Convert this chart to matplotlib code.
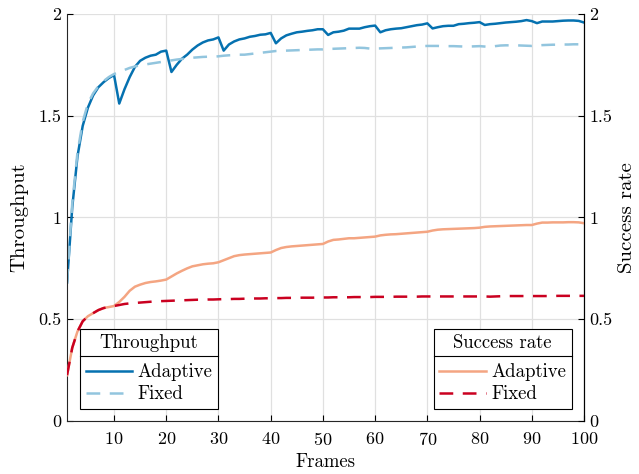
import matplotlib
matplotlib.use("Agg")
import matplotlib.pyplot as plt
from matplotlib.lines import Line2D
import numpy as np

plt.rcParams['font.family'] = 'cmr10'
plt.rcParams['mathtext.fontset'] = 'cm'
plt.rcParams['axes.formatter.use_mathtext'] = True
plt.rcParams['font.size'] = 12

frames = list(range(1, 101))

thr_adaptive = [
    0.68, 1.05, 1.30, 1.45, 1.54, 1.60, 1.64, 1.665, 1.685, 1.70,
    1.56, 1.63, 1.69, 1.74, 1.77, 1.785, 1.795, 1.80, 1.815, 1.82,
    1.715, 1.75, 1.78, 1.80, 1.825, 1.845, 1.86, 1.87, 1.875, 1.885,
    1.82, 1.85, 1.865, 1.875, 1.88, 1.888, 1.892, 1.898, 1.90, 1.907,
    1.856, 1.88, 1.895, 1.903, 1.91, 1.913, 1.917, 1.92, 1.925, 1.925,
    1.897, 1.91, 1.913, 1.918, 1.928, 1.928, 1.928, 1.935, 1.94, 1.943,
    1.91, 1.92, 1.925, 1.928, 1.93, 1.935, 1.94, 1.945, 1.948, 1.954,
    1.929, 1.935, 1.94, 1.942, 1.942, 1.95, 1.952, 1.955, 1.957, 1.96,
    1.946, 1.95, 1.952, 1.955, 1.958, 1.96, 1.962, 1.965, 1.97, 1.965,
    1.955, 1.963, 1.963, 1.963, 1.965, 1.967, 1.968, 1.968, 1.966, 1.958,
]

thr_fixed = [
    0.68, 1.07, 1.32, 1.47, 1.56, 1.61, 1.645, 1.67, 1.69, 1.705,
    1.715, 1.725, 1.735, 1.742, 1.748, 1.752, 1.756, 1.76, 1.764, 1.768,
    1.772, 1.776, 1.779, 1.782, 1.785, 1.787, 1.789, 1.79, 1.79, 1.792,
    1.795, 1.797, 1.798, 1.80, 1.80, 1.803, 1.806, 1.809, 1.812, 1.815,
    1.818, 1.819, 1.82, 1.821, 1.822, 1.823, 1.824, 1.825, 1.826, 1.826,
    1.828, 1.829, 1.83, 1.831, 1.832, 1.833, 1.834, 1.833, 1.83, 1.83,
    1.831, 1.832, 1.833, 1.834, 1.835, 1.836, 1.838, 1.84, 1.842, 1.843,
    1.843, 1.843, 1.842, 1.842, 1.842, 1.841, 1.84, 1.84, 1.841, 1.842,
    1.84, 1.838, 1.842, 1.845, 1.846, 1.846, 1.846, 1.845, 1.844, 1.843,
    1.845, 1.847, 1.848, 1.849, 1.849, 1.85, 1.85, 1.851, 1.851, 1.851,
]

sr_adaptive = [
    0.225, 0.36, 0.44, 0.49, 0.515, 0.53, 0.545, 0.555, 0.56, 0.565,
    0.585, 0.61, 0.64, 0.66, 0.67, 0.678, 0.683, 0.686, 0.69, 0.695,
    0.71, 0.725, 0.738, 0.75, 0.76, 0.765, 0.77, 0.773, 0.775, 0.78,
    0.79, 0.80, 0.81, 0.815, 0.818, 0.82, 0.822, 0.824, 0.826, 0.828,
    0.84, 0.85, 0.855, 0.858, 0.86, 0.862, 0.864, 0.866, 0.868, 0.87,
    0.882, 0.89, 0.892, 0.895, 0.898, 0.898, 0.90, 0.902, 0.904, 0.906,
    0.912, 0.915, 0.917, 0.918, 0.92, 0.922, 0.924, 0.926, 0.928, 0.93,
    0.936, 0.94, 0.942, 0.943, 0.944, 0.945, 0.946, 0.947, 0.948, 0.95,
    0.954, 0.956, 0.957, 0.958, 0.959, 0.96, 0.961, 0.962, 0.963, 0.963,
    0.97, 0.975, 0.975, 0.976, 0.976, 0.976, 0.977, 0.977, 0.976, 0.972,
]

sr_fixed = [
    0.225, 0.36, 0.44, 0.49, 0.515, 0.53, 0.545, 0.555, 0.56, 0.565,
    0.57, 0.575, 0.578, 0.58, 0.582, 0.584, 0.586, 0.588, 0.589, 0.59,
    0.591, 0.592, 0.593, 0.594, 0.595, 0.596, 0.596, 0.597, 0.597, 0.598,
    0.599, 0.599, 0.60, 0.60, 0.601, 0.601, 0.602, 0.602, 0.603, 0.603,
    0.604, 0.604, 0.605, 0.605, 0.605, 0.606, 0.606, 0.606, 0.607, 0.607,
    0.607, 0.608, 0.608, 0.608, 0.608, 0.609, 0.609, 0.609, 0.609, 0.61,
    0.61, 0.61, 0.61, 0.611, 0.611, 0.611, 0.611, 0.611, 0.612, 0.612,
    0.612, 0.612, 0.612, 0.612, 0.612, 0.612, 0.612, 0.612, 0.612, 0.612,
    0.612, 0.611, 0.612, 0.613, 0.614, 0.614, 0.614, 0.614, 0.614, 0.614,
    0.614, 0.614, 0.614, 0.614, 0.615, 0.615, 0.615, 0.615, 0.615, 0.615,
]

yticks = [0, 0.5, 1, 1.5, 2]
ytick_labels = ['0', '0.5', '1', '1.5', '2']
xticks = [10, 20, 30, 40, 50, 60, 70, 80, 90, 100]

c_blue = '#0571b0'
c_lblue = '#92c5de'
c_salmon = '#f4a582'
c_red = '#ca0020'

fig = plt.figure(figsize=(6.39, 4.74), dpi=100)
ax = fig.add_axes([0.1049, 0.1118, 0.809, 0.8587])
ax2 = ax.twinx()

dash = (0, (5.5, 3.8))
l1, = ax.plot(frames, thr_adaptive, color=c_blue, lw=1.8, label='Adaptive')
l2, = ax.plot(frames, thr_fixed, color=c_lblue, lw=1.8, ls=dash, label='Fixed')
l3, = ax2.plot(frames, sr_adaptive, color=c_salmon, lw=1.8, label='Adaptive')
l4, = ax2.plot(frames, sr_fixed, color=c_red, lw=1.8, ls=dash, label='Fixed')

for a in (ax, ax2):
    a.set_xlim(1, 100)
    a.set_ylim(0, 2)
    a.set_yticks(yticks)
    a.set_yticklabels(ytick_labels)
    a.tick_params(direction='in', length=4, width=0.8, labelsize=13)
ax.set_xticks(xticks)
ax.grid(True, color='#e0e0e0', lw=0.9)
ax.set_axisbelow(True)
ax.spines['top'].set_visible(False)
ax2.spines['top'].set_visible(False)
ax.spines['left'].set_color('#262626')
ax.spines['bottom'].set_color('#262626')
ax2.spines['left'].set_visible(False)
ax2.spines['bottom'].set_visible(False)
ax2.spines['right'].set_color('black')
ax.tick_params(axis='x', pad=7)
ax.tick_params(axis='y', pad=4)
ax2.tick_params(axis='y', pad=4)

ax.set_xlabel('Frames', fontsize=13.5, labelpad=4)
ax.set_ylabel('Throughput', fontsize=15, labelpad=7)
ax2.set_ylabel('Success rate', fontsize=15, labelpad=4)

leg_kw = dict(fancybox=False, edgecolor='black', framealpha=1, borderaxespad=0,
              handlelength=2.5, handletextpad=0.27, fontsize=13.5, title_fontsize=13.5,
              borderpad=0.3, labelspacing=0.2)
leg1 = ax2.legend([l1, l2], ['Adaptive', 'Fixed'], title='Throughput',
                  loc='lower left', bbox_to_anchor=(0.025, 0.03), **leg_kw)
ax2.add_artist(leg1)
leg2 = ax2.legend([l3, l4], ['Adaptive', 'Fixed'], title='Success rate',
                  loc='lower right', bbox_to_anchor=(0.976, 0.03), **leg_kw)
for lg in (leg1, leg2):
    lg.get_frame().set_linewidth(0.8)
    lg._legend_box.sep = 8

fig.canvas.draw()
renderer = fig.canvas.get_renderer()
inv = fig.transFigure.inverted()
for lg in (leg1, leg2):
    fb = lg.get_frame().get_window_extent(renderer)
    tb = lg.get_title().get_window_extent(renderer)
    ysep = tb.y0 - 4
    (x0, y0) = inv.transform((fb.x0, ysep))
    (x1, y1) = inv.transform((fb.x1, ysep))
    fig.add_artist(Line2D([x0, x1], [y0, y1], color='black', lw=0.8, zorder=10))

fig.savefig('out.png', dpi=100)
